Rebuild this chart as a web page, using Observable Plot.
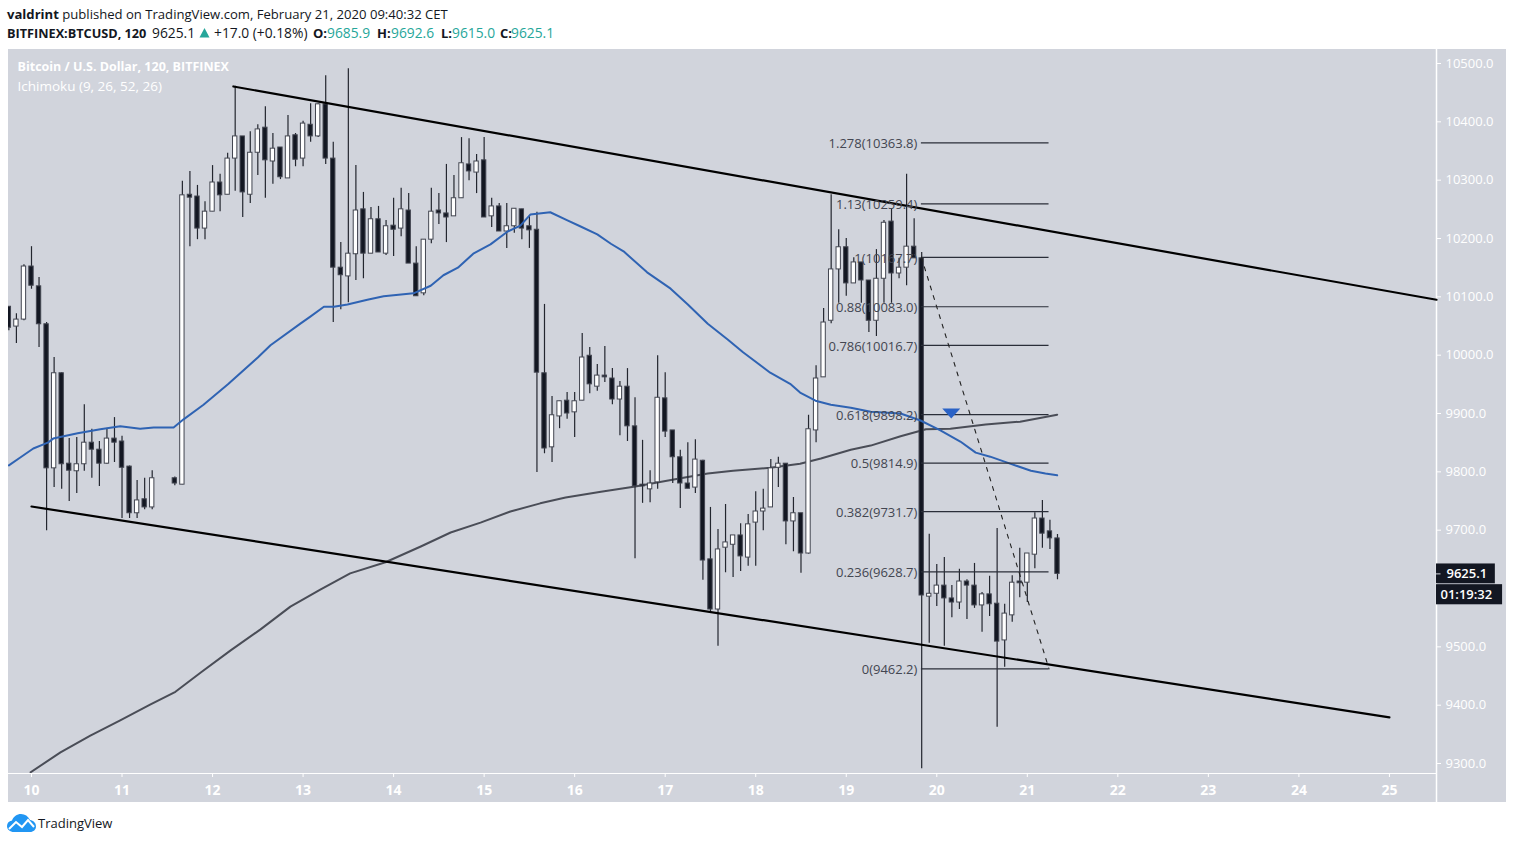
<!DOCTYPE html>
<html><head><meta charset="utf-8">
<script src="https://cdn.jsdelivr.net/npm/d3@7"></script>
<script src="https://cdn.jsdelivr.net/npm/@observablehq/plot@0.6"></script>
<style>
html,body{margin:0;padding:0;background:#fff;font-family:"Open Sans",sans-serif;color:#131722;}
#head{position:relative;height:49px;font-size:13.1px;line-height:18px;white-space:nowrap;}
#head div,#head span.a{position:absolute;}
#l1{top:5px;left:7px}
#head span.a{top:24px;font-size:13.8px}
#head span.k{font-size:13px;font-weight:700}
b{font-weight:700}.g{color:#26a69a}
#chart{margin-left:8px;height:753px}
#chart svg{display:block}
#foot{position:relative;height:42px;font-size:13px}
#foot span{position:absolute;left:38px;top:12px}
#foot svg{position:absolute;left:7px;top:12px}
</style></head><body>
<div id="head">
<div id="l1"><b>valdrint</b> published on TradingView.com, February 21, 2020 09:40:32 CET</div>
<span class="a k" style="left:7px;font-size:12.7px">BITFINEX:BTCUSD, 120</span>
<span class="a" style="left:152px">9625.1</span>
<svg style="position:absolute;left:199px;top:27px" width="11" height="11" viewBox="0 0 11 11"><path d="M5.500 1L10.500 10.500L0.500 10.500Z" fill="#26a69a"/></svg>
<span class="a" style="left:214px">+17.0 (+0.18%)</span>
<span class="a k" style="left:313px">O:</span><span class="a g" style="left:327px">9685.9</span>
<span class="a k" style="left:377px">H:</span><span class="a g" style="left:391px">9692.6</span>
<span class="a k" style="left:441px">L:</span><span class="a g" style="left:452px">9615.0</span>
<span class="a k" style="left:500px">C:</span><span class="a g" style="left:511px">9625.1</span>
</div>
<div id="chart"></div>
<div id="foot">
<svg width="29" height="18" viewBox="0 0 29 18"><path d="M7 18C3 18 0 15.500 0 12C0 9 2 7 5 6.500C6.500 2.500 10 0 14 0C18 0 21 2 23 6C26.500 6.500 29 9 29 12.500C29 15.500 26.500 18 23 18Z" fill="#2196f3"/><path d="M2 15L9 8L15 13L21 6L27 13" fill="none" stroke="#fff" stroke-width="2"/></svg>
<span>TradingView</span></div>
<script>
const firstBar = -3, barsPerDay = 12, startDay = 10;
const open = [
10083,10049,10061,10152,10118,10053,9806,9969,9814,9801,
9813,9850,9838,9814,9857,9852,9809,9729,9753,9739,
9782,9782,9789,9778,10275,10272,10217,10246,10296,10275,
10337,10375,10275,10347,10390,10332,10356,10303,10377,10337,
10395,10375,10430,10337,10150,10135,10173,10250,10174,10233,
10174,10222,10217,10248,10157,10106,10198,10248,10243,10238,
10269,10327,10313,10334,10238,10255,10212,10221,10250,10221,
10215,9969,9842,9895,9922,9902,9922,9999,9946,9965,
9960,9924,9946,9878,9778,9770,9782,9926,9871,9825,
9780,9773,9819,9650,9564,9670,9675,9691,9653,9713,
9732,9739,9807,9814,9715,9729,9660,9871,9962,10059,
10147,10185,10123,10159,10128,10059,10131,10229,10140,10150,
10186,10166,9586,9591,9605,9583,9576,9612,9605,9571,
9590,9574,9511,9554,9612,9610,9658,9720,9698,9685.9];
const close = [
10047,10061,10152,10119,10053,9806,9969,9813,9802,9813,
9850,9838,9814,9857,9850,9807,9729,9751,9739,9789,
9782,9782,9780,10274,10270,10217,10246,10296,10274,10337,
10375,10279,10347,10387,10334,10354,10305,10375,10335,10397,
10375,10430,10337,10150,10137,10174,10248,10174,10233,10176,
10221,10215,10250,10157,10101,10198,10246,10243,10236,10269,
10329,10315,10332,10236,10255,10212,10221,10251,10217,10214,
9970,9840,9897,9921,9900,9921,9996,9950,9965,9962,
9924,9946,9878,9775,9775,9780,9927,9869,9825,9780,
9771,9821,9648,9564,9667,9679,9691,9655,9710,9732,
9737,9806,9814,9715,9729,9660,9873,9960,10056,10147,
10185,10123,10159,10128,10059,10131,10227,10140,10150,10186,
10166,9588,9591,9605,9583,9576,9612,9605,9571,9590,
9573,9509,9557,9610,9609,9660,9720,9694,9686,9625.1];
const high = [
10083,10071,10155,10186,10133,10056,9996,9970,9857,9859,
9915,9873,9852,9873,9893,9861,9810,9785,9789,9802,
9782,9782,9791,10298,10315,10291,10263,10325,10310,10346,
10461,10375,10383,10395,10426,10380,10356,10411,10380,10401,
10431,10431,10479,10365,10193,10491,10325,10279,10253,10255,
10231,10269,10286,10277,10186,10198,10286,10277,10327,10308,
10373,10371,10344,10373,10269,10260,10260,10251,10250,10238,
10245,10087,9929,9921,9936,9936,10037,10013,9984,10015,
9977,9955,9977,9927,9854,9802,9999,9970,9871,9837,
9850,9855,9820,9739,9701,9744,9691,9711,9727,9766,
9770,9821,9825,9814,9756,9729,9897,9982,10080,10275,
10215,10200,10167,10159,10128,10181,10231,10251,10166,10310,
10234,10176,9693,9641,9653,9605,9633,9615,9643,9593,
9621,9703,9573,9622,9669,9660,9730,9751,9717,9692.6];
const low = [
10042,10020,10059,10113,10013,9699,9773,9770,9749,9763,
9801,9789,9775,9813,9816,9720,9720,9720,9735,9735,
9782,9782,9776,9778,10186,10198,10198,10246,10246,10275,
10281,10236,10260,10308,10269,10293,10301,10303,10323,10323,
10365,10373,10327,10056,10078,10090,10128,10131,10174,10176,
10171,10169,10203,10157,10101,10102,10191,10224,10193,10238,
10269,10299,10277,10236,10219,10212,10183,10209,10198,10183,
9799,9831,9816,9874,9890,9859,9922,9934,9938,9953,
9915,9862,9852,9651,9746,9747,9770,9859,9780,9737,
9771,9763,9614,9559,9501,9627,9619,9629,9638,9638,
9699,9739,9773,9675,9663,9626,9659,9850,9962,10054,
10089,10101,10123,10089,10039,10032,10089,10089,10131,10119,
10166,9291,9506,9569,9501,9550,9564,9547,9566,9525,
9552,9362,9465,9542,9584,9576,9634,9669,9667,9615.0];

const blueDay = [9.75,9.88,10.02,10.18,10.24,10.51,10.76,10.98,11.20,11.35,11.57,11.68,11.90,12.17,12.50,12.64,12.97,13.08,13.23,13.34,13.49,13.71,13.89,14.22,14.41,14.55,14.71,14.88,15.07,15.26,15.40,15.51,15.73,15.92,16.06,16.25,16.40,16.54,16.80,17.06,17.25,17.47,17.69,17.86,18.16,18.38,18.49,18.66,18.83,19.05,19.27,19.60,19.82,20.04,20.26,20.43,20.59,20.81,21.04,21.20,21.33];
const bluePrice = [9811,9825,9840,9850,9857,9866,9873,9878,9874,9876,9876,9890,9915,9950,9996,10017,10054,10066,10083,10083,10087,10095,10101,10106,10119,10137,10150,10174,10190,10212,10222,10241,10245,10231,10221,10207,10191,10178,10142,10114,10087,10054,10027,10005,9970,9951,9936,9922,9915,9910,9903,9900,9888,9871,9852,9833,9826,9814,9802,9797,9794];
const grayDay = [9.99,10.32,10.65,10.98,11.31,11.59,11.87,12.20,12.53,12.86,13.19,13.52,13.91,14.30,14.63,14.96,15.29,15.62,15.90,16.29,16.67,17.17,17.47,17.75,18.16,18.49,18.72,19.05,19.27,19.60,19.88,20.15,20.54,20.92,21.33];
const grayPrice = [9285,9319,9348,9374,9401,9423,9456,9494,9530,9569,9598,9626,9645,9672,9696,9713,9732,9746,9756,9766,9775,9789,9797,9802,9807,9814,9823,9838,9845,9861,9873,9874,9881,9886,9898];

const trendDays = [[12.23,25.52],[10.0,25.0]];
const trendPrices = [[10460.6,10095],[9740.6,9379]];

const fibRatio = ["1.278","1.13","1","0.88","0.786","0.618","0.5","0.382","0.236","0"];
const fibPrice = [10363.8,10259.4,10167.7,10083.0,10016.7,9898.2,9814.9,9731.7,9628.7,9462.2];
const fibStart = 19.83, fibEnd = 21.24;

const dayTicks = [10,11,12,13,14,15,16,17,18,19,20,21,22,23,24,25];
const priceTicks = [9300,9400,9500,9700,9800,9900,10000,10100,10200,10300,10400,10500];
const xDomain = [9.746,25.52];
const yDomain = [9282.9,10524];
const lastPrice = 9625.1;
const countdown = "01:19:32";

const BG="#d1d4dc", DARK="#131722", EDGE="#434651", BLUE="#2f63b3", GRAY="#4a4d57";
const HW=0.024;
const bars = open.map((o,i)=>({t:startDay+(i+firstBar)/barsPerDay,o,c:close[i],h:high[i],l:low[i]}));
const line = (xs,ys)=>xs.map((x,i)=>({x,y:ys[i]}));
const fibs = fibRatio.map((r,i)=>({r,p:fibPrice[i]}));
const flagSymbol = {draw(ctx){ctx.moveTo(-9,-5);ctx.lineTo(9,-5);ctx.lineTo(0,5);ctx.closePath();}};

const chart = Plot.plot({
  width:1498,height:753,
  marginLeft:0,marginRight:70,marginTop:0,marginBottom:29,
  style:{background:BG,fontFamily:'"Open Sans",sans-serif',overflow:"visible"},
  x:{type:"linear",domain:xDomain,axis:null},
  y:{type:"linear",domain:yDomain,axis:null},
  marks:[
    Plot.axisX({ticks:dayTicks,tickFormat:d=>String(d),anchor:"bottom",tickSize:4,tickPadding:8,fill:"#fff",stroke:"#fff",fontSize:14,fontWeight:"bold",label:null}),
    Plot.axisY({ticks:priceTicks,tickFormat:d3.format(".1f"),anchor:"right",tickSize:4,tickPadding:5,fill:"#fff",stroke:"#fff",fontSize:13,textAnchor:"start",label:null}),
    Plot.ruleY([yDomain[0]],{stroke:"#fff",strokeWidth:1}),
    Plot.ruleX([xDomain[1]],{y1:9233,y2:yDomain[1],stroke:"#fff",strokeWidth:1.5}),
    Plot.text(["Bitcoin / U.S. Dollar, 120, BITFINEX"],{frameAnchor:"top-left",dx:9,dy:13,fill:"#fff",fontWeight:"bold",fontSize:12.5,textAnchor:"start"}),
    Plot.text(["Ichimoku (9, 26, 52, 26)"],{frameAnchor:"top-left",dx:9,dy:32,fill:"#fff",fontSize:13.5,textAnchor:"start"}),
    Plot.line(line(grayDay,grayPrice),{x:"x",y:"y",stroke:GRAY,strokeWidth:2,clip:true}),
    Plot.ruleX(bars,{x:"t",y1:"l",y2:"h",stroke:"#23262f",strokeWidth:1.2,clip:true}),
    Plot.rect(bars,{x1:d=>d.t-HW,x2:d=>d.t+HW,y1:"o",y2:"c",fill:d=>d.c>d.o?"#fff":DARK,stroke:EDGE,strokeWidth:1,clip:true}),
    Plot.line(line(blueDay,bluePrice),{x:"x",y:"y",stroke:BLUE,strokeWidth:2,clip:true}),
    ...trendDays.map((ds,i)=>Plot.line(line(ds,trendPrices[i]),{x:"x",y:"y",stroke:"#000",strokeWidth:2.2})),
    Plot.ruleY(fibs,{y:"p",x1:fibStart,x2:fibEnd,stroke:"#2a2e39",strokeWidth:1.2}),
    Plot.text(fibs,{x:fibStart,y:"p",text:d=>`${d.r}(${d.p.toFixed(1)})`,dx:-4,dy:1,textAnchor:"end",fill:"#434651",fontSize:13}),
    Plot.line(line([fibStart,fibEnd],[fibPrice[2],fibPrice[9]]),{x:"x",y:"y",stroke:"#222",strokeWidth:1.1,strokeDasharray:"4 6"}),
    Plot.dot([{x:20.16,y:9900}],{x:"x",y:"y",symbol:flagSymbol,fill:"#2a62c6"}),
    Plot.rect([{p:lastPrice}],{x1:xDomain[1],x2:26.17,y1:d=>d.p-17,y2:d=>d.p+17,fill:DARK}),
    Plot.rect([{p:lastPrice}],{x1:xDomain[1],x2:26.25,y1:d=>d.p-53,y2:d=>d.p-18.500,fill:DARK}),
    Plot.ruleY([lastPrice],{x1:xDomain[1],x2:25.57,stroke:BG}),
    Plot.text([lastPrice],{x:xDomain[1],y:d=>d,text:d=>d.toFixed(1),dx:10,textAnchor:"start",fill:"#fff",fontSize:13,fontWeight:"600"}),
    Plot.text([countdown],{x:xDomain[1],y:()=>lastPrice-36,text:d=>d,dx:4,textAnchor:"start",fill:"#fff",fontSize:13,fontWeight:"600"})
  ]
});
document.getElementById("chart").append(chart);
</script>
</body></html>
